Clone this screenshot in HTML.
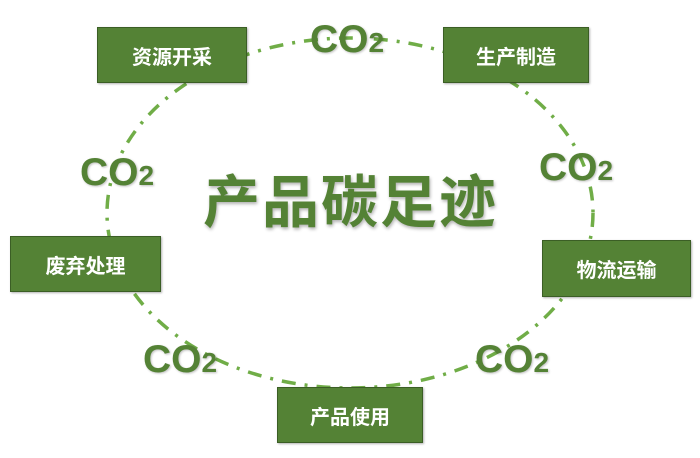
<!DOCTYPE html>
<html><head><meta charset="utf-8"><style>
body{margin:0;width:700px;height:458px;background:#fff;position:relative;overflow:hidden;font-family:"Liberation Sans","Noto Sans CJK SC",sans-serif}
.box{position:absolute;background:#548235;border:1px solid #3b5e25;color:#fff;font-weight:bold;font-size:20px;display:flex;align-items:center;justify-content:center;box-shadow:1px 1px 2px rgba(0,0,0,.3);font-family:"Liberation Sans","Noto Sans CJK SC",sans-serif}
.co{position:absolute;color:#548235;font-weight:bold;font-size:39px;line-height:40px;text-shadow:1px 1px 2px rgba(0,0,0,.25);white-space:nowrap}
.co span{font-size:28px}
.title{position:absolute;left:203px;top:170px;color:#548235;font-weight:bold;font-size:57px;line-height:66px;letter-spacing:2px;text-shadow:1px 2px 3px rgba(0,0,0,.3)}
</style></head><body>
<svg width="700" height="458" style="position:absolute;left:0;top:0">
<ellipse cx="350" cy="213" rx="243" ry="175" fill="none" stroke="#70ad47" stroke-width="3.5" stroke-dasharray="14 9 3 9"/>
</svg>
<div class="co" style="left:310px;top:20px">CO<span>2</span></div>
<div class="co" style="left:539px;top:148px">CO<span>2</span></div>
<div class="co" style="left:80px;top:153px">CO<span>2</span></div>
<div class="co" style="left:143px;top:340px">CO<span>2</span></div>
<div class="co" style="left:475px;top:340px">CO<span>2</span></div>
<div class="title">产品碳足迹</div>
<div class="box" style="left:97px;top:27px;width:148px;height:54px">资源开采</div>
<div class="box" style="left:443px;top:27px;width:144px;height:54px">生产制造</div>
<div class="box" style="left:542px;top:240px;width:147px;height:55px">物流运输</div>
<div class="box" style="left:10px;top:236px;width:149px;height:54px">废弃处理</div>
<div class="box" style="left:277px;top:387px;width:144px;height:54px">产品使用</div>
</body></html>
